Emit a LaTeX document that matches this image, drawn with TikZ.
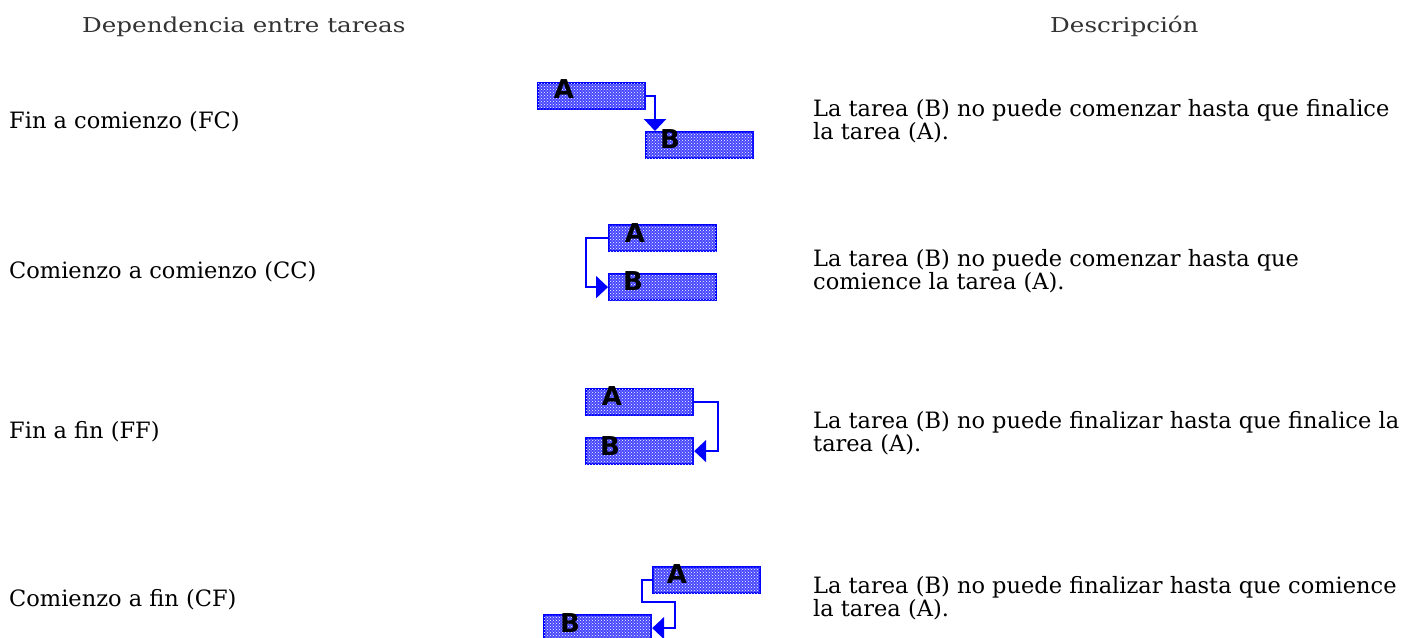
\documentclass[tikz,border=0pt]{standalone}
\usepackage{fontspec}
\setmainfont{DejaVu Serif}
\newfontfamily\headfont[FakeStretch=1.2]{DejaVu Serif}
\newfontfamily\barfont{DejaVu Sans}
\usetikzlibrary{arrows.meta,patterns,calc}
\tikzset{
 hdr/.style={font=\headfont\fontsize{20.5}{24}\selectfont, text=black!80, inner sep=0pt, anchor=base west},
 lbl/.style={font=\fontsize{22.5}{26}\selectfont, inner sep=0pt, anchor=base west},
 desc/.style={font=\fontsize{22.5}{21}\selectfont, inner sep=0pt, anchor=north west, align=left},
 bar/.style={draw=blue, line width=2.2pt, fill=blue!72, postaction={pattern=crosshatch dots, pattern color=white}, minimum width=107pt, minimum height=26pt, inner sep=0pt, anchor=north west},
 letter/.style={font=\barfont\bfseries\fontsize{26}{26}\selectfont, inner sep=0pt},
 conn/.style={draw=blue, line width=2.4pt, -{Triangle[length=12pt,width=22pt]}},
}
\begin{document}
\begin{tikzpicture}[x=1pt,y=-1pt]
\useasboundingbox (0,0) rectangle (1423,637);
\clip (0,0) rectangle (1423,637);
% headers
\node[hdr] (h1) at (82,32) {Dependencia entre tareas};
\node[hdr] (h2) at (1050,32) {Descripción};
% left labels
\node[lbl] (l1) at (9,128) {Fin a comienzo (FC)};
\node[lbl] (l2) at (9,278) {Comienzo a comienzo (CC)};
\node[lbl] (l3) at (9,438) {Fin a fin (FF)};
\node[lbl] (l4) at (9,606) {Comienzo a fin (CF)};
% descriptions
\node[desc] (d1) at (813,99) {La tarea (B) no puede comenzar hasta que finalice\\la tarea (A).};
\node[desc] (d2) at (813,249) {La tarea (B) no puede comenzar hasta que\\comience la tarea (A).};
\node[desc] (d3) at (813,411) {La tarea (B) no puede finalizar hasta que finalice la\\tarea (A).};
\node[desc] (d4) at (813,576) {La tarea (B) no puede finalizar hasta que comience\\la tarea (A).};
% FC
\node[bar] (fa) at (537,82) {};
\node[bar] (fb) at (645,131) {};
\node[letter] (fal) at (564,89) {A};
\node[letter] (fbl) at (670,139) {B};
\coordinate (fin) at ($(fb.north west)+(10,0)$);
\draw[conn] (fa.east) -| (fin);
% CC
\node[bar] (ca) at (608,224) {};
\node[bar] (cb) at (608,273) {};
\node[letter] (cal) at (635,233) {A};
\node[letter] (cbl) at (633,281) {B};
\draw[conn] (ca.west) -- ++(-22,0) |- (cb.west);
% FF
\node[bar] (xa) at (585,388) {};
\node[bar] (xb) at (585,437) {};
\node[letter] (xal) at (612,396) {A};
\node[letter] (xbl) at (610,446) {B};
\draw[conn] (xa.east) -- ++(24,0) |- (xb.east);
% CF
\node[bar] (ya) at (652,566) {};
\node[bar] (yb) at (543,614) {};
\node[letter] (yal) at (677,574) {A};
\node[letter] (ybl) at (570,623) {B};
\coordinate (yturn) at (675,602);
\draw[conn] (ya.west) -- ++(-10,0) |- (yturn) -- (yturn |- yb.east) -- (yb.east);
\end{tikzpicture}
\end{document}
